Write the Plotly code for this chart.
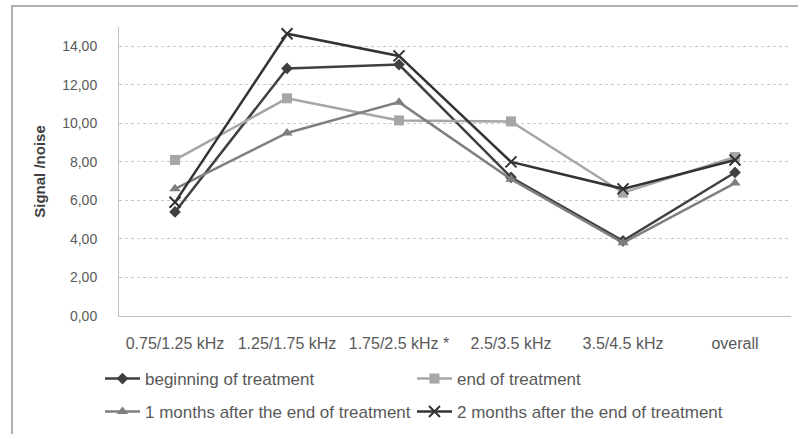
import plotly.graph_objects as go

categories = ["0.75/1.25 kHz", "1.25/1.75 kHz", "1.75/2.5 kHz *", "2.5/3.5 kHz", "3.5/4.5 kHz", "overall"]
beginning = [5.4, 12.85, 13.05, 7.2, 3.9, 7.45]
end_treat = [8.1, 11.3, 10.15, 10.1, 6.4, 8.25]
one_month = [6.6, 9.5, 11.1, 7.1, 3.8, 6.9]
two_months = [5.9, 14.65, 13.5, 8.0, 6.6, 8.1]
y_ticks = [0, 2, 4, 6, 8, 10, 12, 14]
y_tick_text = ["0,00", "2,00", "4,00", "6,00", "8,00", "10,00", "12,00", "14,00"]

FONT = "Liberation Sans"
TXT = "#595959"

fig = go.Figure()
series = [
    ("beginning of treatment", beginning, "#404040", "diamond", 9, 2.5, "legend"),
    ("end of treatment", end_treat, "#a6a6a6", "square", 10, 2.5, "legend"),
    ("1 months after the end of treatment", one_month, "#7f7f7f", "triangle-up", 10, 2.5, "legend2"),
    ("2 months after the end of treatment", two_months, "#333333", "x-thin", 11, 2.5, "legend2"),
]
for name, vals, col, sym, size, lw, leg in series:
    marker = dict(symbol=sym, size=size, color=col)
    if sym == "x-thin":
        marker["line"] = dict(color=col, width=2)
    fig.add_trace(go.Scatter(
        x=categories, y=vals, name=name, mode="lines+markers",
        line=dict(color=col, width=lw), marker=marker, legend=leg,
    ))

PW, PH = 672, 289
leg_common = dict(
    orientation="h", x=(100 - 119) / PW, xanchor="left", yanchor="middle",
    entrywidth=262, entrywidthmode="pixels",
    font=dict(family=FONT, size=17, color=TXT),
    traceorder="normal", itemwidth=35, tracegroupgap=0,
    bgcolor="rgba(0,0,0,0)",
)

fig.update_layout(
    width=798, height=434,
    margin=dict(l=119, r=7, t=27, b=118, autoexpand=False),
    paper_bgcolor="white", plot_bgcolor="white",
    font=dict(family=FONT, size=14, color=TXT),
    showlegend=True,
    legend=dict(leg_common, y=-(379 - 316) / PH),
    legend2=dict(leg_common, y=-(412 - 316) / PH),
    xaxis=dict(
        type="category", showgrid=False, showline=True, linecolor="#bfbfbf", linewidth=1,
        ticks="", tickfont=dict(size=16, color=TXT), ticklabelstandoff=13,
        range=[-0.5, 5.5], zeroline=False,
    ),
    yaxis=dict(
        range=[0, 15], tickvals=y_ticks, ticktext=y_tick_text,
        showgrid=True, gridcolor="#c8c8c8", griddash="dot", gridwidth=1,
        showline=True, linecolor="#bfbfbf", linewidth=1,
        ticks="", tickfont=dict(size=14, color=TXT), ticklabelstandoff=18,
        zeroline=False,
        title=dict(text="<b>Signal /noise</b>", font=dict(size=15, color="#404040"), standoff=12),
    ),
    shapes=[
        dict(type="rect", xref="paper", yref="paper",
             x0=(12 - 119) / PW, x1=(805 - 119) / PW,
             y0=(316 - 445) / PH, y1=(316 - 6) / PH,
             line=dict(color="#b0b0b0", width=2), fillcolor="rgba(0,0,0,0)", layer="below"),
    ],
)

fig.write_html(
    "out.html",
    config={"displayModeBar": False},
    post_script="document.body.style.margin='0';document.body.style.overflow='hidden';",
)
